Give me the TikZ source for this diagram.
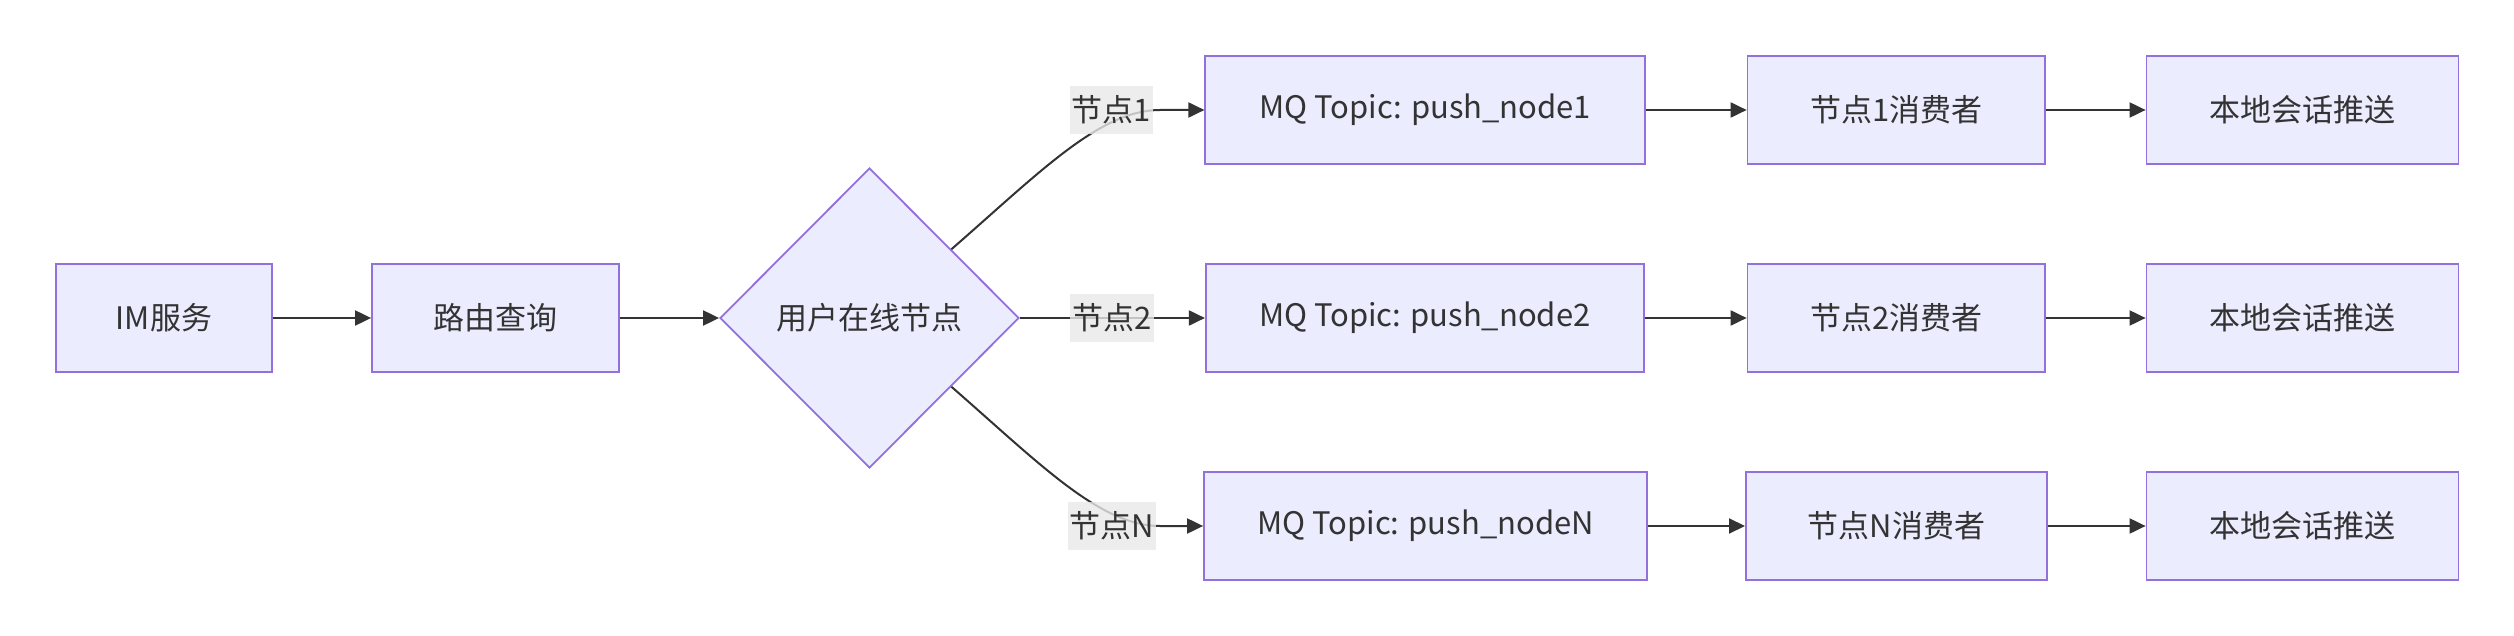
\documentclass[tikz,border=0pt]{standalone}
\usepackage{fontspec}
\setmainfont{Noto Sans CJK SC}
\usetikzlibrary{shapes.geometric,arrows.meta,calc}
\definecolor{boxfill}{HTML}{ECECFF}
\definecolor{boxline}{HTML}{9370DB}
\definecolor{ink}{HTML}{333333}
\definecolor{lblbg}{HTML}{E8E8E8}
\begin{document}
\begin{tikzpicture}[x=1pt,y=-1pt,
  font=\fontsize{31}{37}\selectfont,
  proc/.style={draw=boxline, fill=boxfill, line width=1.8pt, text=ink,
    minimum height=108pt, inner sep=0pt},
  decide/.style={diamond, draw=boxline, fill=boxfill, line width=1.8pt, text=ink,
    minimum width=299pt, minimum height=300pt, inner sep=0pt},
  elabel/.style={fill=lblbg, fill opacity=0.8, text opacity=1, text=ink,
    inner xsep=2pt, inner ysep=0pt, minimum height=48pt},
  flow/.style={draw=ink, line width=2pt, -{Triangle[length=16pt,width=15pt]}}]
\useasboundingbox (0,0) rectangle (2514,636);

\node[proc, minimum width=216pt] (im) at (164,318) {IM服务};
\node[proc, minimum width=247pt] (route) at (495.5,318) {路由查询};
\node[decide] (dia) at (869.5,318) {用户在线节点};

\node[proc, minimum width=440pt] (mq1) at (1425.3,110) {MQ Topic: push\_node1};
\node[proc, minimum width=438pt] (mq2) at (1424.8,318) {MQ Topic: push\_node2};
\node[proc, minimum width=443pt] (mqN) at (1425.5,526) {MQ Topic: push\_nodeN};

\node[proc, minimum width=297.5pt] (c1) at (1896.3,110) {节点1消费者};
\node[proc, minimum width=297.5pt] (c2) at (1896.3,318) {节点2消费者};
\node[proc, minimum width=301pt] (cN) at (1896.4,526) {节点N消费者};

\node[proc, minimum width=312pt] (p1) at (2302.5,110) {本地会话推送};
\node[proc, minimum width=312pt] (p2) at (2302.5,318) {本地会话推送};
\node[proc, minimum width=312pt] (pN) at (2302.5,526) {本地会话推送};

\coordinate (k1) at (1160,110);
\coordinate (kN) at (1160,526);

\draw[flow] (im) -- (route);
\draw[flow] (route) -- (dia);
\draw[flow] (dia.40) .. controls (1040,172) and (1100,110) .. (k1) -- (mq1.west);
\draw[flow] (dia.east) -- (mq2.west);
\draw[flow] (dia.-40) .. controls (1040,464) and (1100,526) .. (kN) -- (mqN.west);

\draw[flow] (mq1) -- (c1);
\draw[flow] (mq2) -- (c2);
\draw[flow] (mqN) -- (cN);
\draw[flow] (c1) -- (p1);
\draw[flow] (c2) -- (p2);
\draw[flow] (cN) -- (pN);

\node[elabel] (l1) at (1111.5,110) {节点1};
\node[elabel] (l2) at (1112,318) {节点2};
\node[elabel] (lN) at (1112,526) {节点N};
\end{tikzpicture}
\end{document}
